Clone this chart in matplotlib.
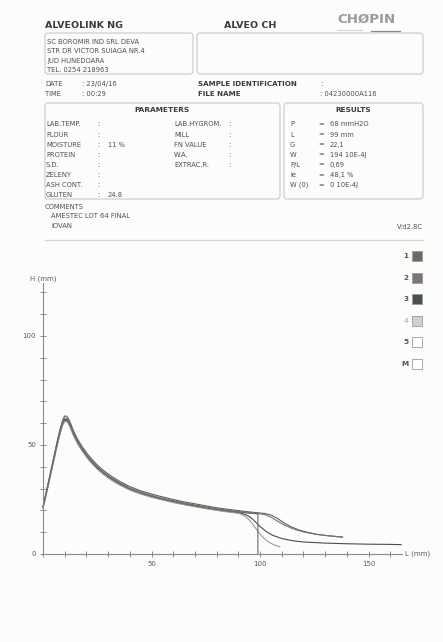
import matplotlib
matplotlib.use("Agg")
import matplotlib.pyplot as plt
from matplotlib.patches import FancyBboxPatch, Rectangle
from matplotlib.ticker import MultipleLocator, FuncFormatter

plt.rcParams['font.family'] = ['DejaVu Sans']

# ---------------- report data ----------------
lab_name = "ALVEOLINK NG"
test_name = "ALVEO CH"
address = ["SC BOROMIR IND SRL DEVA", "STR DR VICTOR SUIAGA NR.4",
           "JUD HUNEDOARA", "TEL. 0254 218963"]
date_str = "23/04/16"
time_str = "00:29"
file_name = "04230000A116"

param_left = ["LAB.TEMP.", "FLOUR", "MOISTURE", "PROTEIN", "S.D.", "ZELENY", "ASH CONT.", "GLUTEN"]
param_left_vals = ["", "", "11 %", "", "", "", "", "24.8"]
param_right = ["LAB.HYGROM.", "MILL", "FN VALUE", "W.A.", "EXTRAC.R."]

result_names = ["P", "L", "G", "W", "P/L", "Ie", "W (0)"]
result_vals = ["68 mmH2O", "99 mm", "22,1", "194 10E-4J", "0,69", "48,1 %", "0 10E-4J"]

comments = ["AMESTEC LOT 64 FINAL", "IOVAN"]
version = "V:d2.8C"

# ---------------- alveogram curves ----------------
# shared abscissa for the inflation part of every bubble (mm)
L_common = [0, 1, 2, 3, 4, 5, 6, 7, 8, 9, 10, 11, 12, 13, 14, 16, 18, 20, 22, 25,
            28, 31, 35, 40, 45, 50, 55, 60, 65, 70, 75, 80, 85, 90]

H1 = [22.0, 26.2, 30.8, 35.4, 40.0, 44.6, 49.2, 53.8, 57.8, 61.3, 63.3, 63.2, 61.6, 59.2,
      56.6, 52.5, 49.3, 46.5, 44.0, 40.8, 38.2, 36.0, 33.5, 30.9, 29.0, 27.5, 26.2, 25.0,
      23.9, 23.0, 22.1, 21.2, 20.5, 19.9]
L1_tail = [94, 98, 102, 105, 108, 111, 114, 118, 122, 127, 132, 138]
H1_tail = [19.4, 19.0, 18.6, 17.9, 16.3, 14.3, 12.6, 11.0, 9.9, 8.9, 8.3, 7.8]

H2 = [21.6, 25.8, 30.3, 34.9, 39.4, 44.0, 48.6, 53.1, 57.0, 60.4, 62.3, 62.2, 60.6, 58.2,
      55.7, 51.6, 48.5, 45.7, 43.2, 40.1, 37.5, 35.3, 32.9, 30.3, 28.4, 26.9, 25.6, 24.5,
      23.4, 22.5, 21.6, 20.8, 20.1, 19.5]
L2_tail = [94, 98, 102, 105, 108, 111, 115, 120, 126, 132, 138]
H2_tail = [19.1, 18.7, 18.1, 16.9, 15.1, 13.4, 11.6, 10.1, 9.0, 8.3, 7.7]

H3 = [21.3, 25.3, 29.8, 34.3, 38.8, 43.3, 47.8, 52.2, 56.0, 59.4, 61.3, 61.2, 59.7, 57.3,
      54.8, 50.8, 47.7, 44.9, 42.4, 39.3, 36.8, 34.6, 32.2, 29.6, 27.8, 26.3, 25.0, 23.9,
      22.8, 21.9, 21.0, 20.2, 19.5, 18.9]
L3_tail = [92, 94, 96, 98, 100, 103, 106, 110, 115, 120, 130, 140, 150, 160, 165]
H3_tail = [18.5, 17.8, 16.5, 14.6, 12.6, 10.2, 8.5, 7.1, 6.1, 5.5, 5.0, 4.7, 4.5, 4.4, 4.3]

H4 = [21.0, 25.0, 29.4, 33.9, 38.4, 42.9, 47.3, 51.7, 55.5, 58.8, 60.8, 60.7, 59.2, 56.9,
      54.4, 50.4, 47.3, 44.5, 42.0, 38.9, 36.4, 34.2, 31.8, 29.3, 27.5, 26.0, 24.8, 23.6,
      22.6, 21.7, 20.8, 20.0, 19.3, 18.7]
L4_tail = [91, 93, 95, 97, 99, 101, 103, 105, 107, 109]
H4_tail = [18.4, 17.4, 15.7, 13.2, 10.4, 8.0, 6.2, 4.9, 4.0, 3.3]

HM = [21.5, 25.6, 30.1, 34.6, 39.1, 43.7, 48.2, 52.7, 56.6, 60.0, 61.8, 61.7, 60.2, 57.8,
      55.3, 51.3, 48.2, 45.4, 42.9, 39.8, 37.2, 35.0, 32.6, 29.9, 28.1, 26.6, 25.3, 24.2,
      23.1, 22.2, 21.3, 20.5, 19.8, 19.2]
LM_tail = [94, 99, 99]
HM_tail = [18.8, 18.4, 0.0]

legend_labels = ["1", "2", "3", "4", "5", "M"]
legend_faces = ["#6a6b66", "#7b7679", "#4b504c", "#d0d0d0", "#ffffff", "#ffffff"]
legend_text_colors = ["#555555", "#555555", "#555555", "#c4c4c4", "#555555", "#555555"]
curve_colors = ["#5e5f5a", "#77727a", "#4a4e4b", "#9a9a9a", "#6a6a6a"]

# ---------------- figure ----------------
W, H = 443, 642
BG = "#fcfcfb"
TXT = "#4f4f4f"
HEAD = "#3a3a3a"
BOX = "#c9c9c9"

fig = plt.figure(figsize=(W / 100, H / 100), dpi=100, facecolor=BG)

# page layer in pixel units (origin top-left)
page = fig.add_axes([0, 0, 1, 1], zorder=0)
page.set_xlim(0, W)
page.set_ylim(H, 0)
page.axis("off")
page.set_facecolor(BG)


def txt(x, y, s, size=4.9, color=TXT, weight="normal", ha="left"):
    page.text(x, y, s, fontsize=size, color=color, fontweight=weight,
              ha=ha, va="center")


def rbox(x0, y0, x1, y1):
    page.add_patch(FancyBboxPatch((x0 + 3, y0 + 3), x1 - x0 - 6, y1 - y0 - 6,
                                  boxstyle="round,pad=3", fc="none", ec=BOX, lw=0.8))


# header
txt(45, 26, lab_name, size=6.8, color=HEAD, weight="bold")
txt(224, 26, test_name, size=6.8, color=HEAD, weight="bold")
txt(337, 19, "CHØPIN", size=9.6, color="#9c9c9c", weight="bold")
page.plot([371, 400], [31, 31], color="#8a8a8a", lw=0.9)
page.plot([337, 362], [30, 30], color="#d6d6d6", lw=0.8)

rbox(45, 33, 193, 74)
rbox(197, 33, 423, 74)
for i, line in enumerate(address):
    txt(47, 42 + i * 9.4, line)

txt(45, 84, "DATE")
txt(82, 84, ": " + date_str)
txt(45, 94, "TIME")
txt(82, 94, ": " + time_str)
txt(198, 84, "SAMPLE IDENTIFICATION", size=5.1, color=HEAD, weight="bold")
txt(198, 94, "FILE NAME", size=5.1, color=HEAD, weight="bold")
txt(320, 84, ":")
txt(320, 94, ": " + file_name)

# parameters and results panels
rbox(45, 103, 280, 199)
rbox(284, 103, 423, 199)
txt(162, 110, "PARAMETERS", size=5.3, color=HEAD, weight="bold", ha="center")
txt(353, 110, "RESULTS", size=5.3, color=HEAD, weight="bold", ha="center")

row_y0, row_dy = 124.5, 10.05
for i, name in enumerate(param_left):
    y = row_y0 + i * row_dy
    txt(46, y, name)
    txt(97, y, ":")
    if param_left_vals[i]:
        txt(108, y, param_left_vals[i])
for i, name in enumerate(param_right):
    y = row_y0 + i * row_dy
    txt(174, y, name)
    txt(228, y, ":")
for i, name in enumerate(result_names):
    y = row_y0 + i * row_dy
    txt(290, y, name)
    txt(318, y, "=")
    txt(330, y, result_vals[i])

txt(45, 207, "COMMENTS")
for i, c in enumerate(comments):
    txt(51, 216.5 + i * 9.6, c)
txt(423, 227, version, ha="right")
page.plot([45, 423], [240, 240], color="#d4d4d4", lw=1.0)

# legend swatches
for i, (lab, fc, tc) in enumerate(zip(legend_labels, legend_faces, legend_text_colors)):
    yc = 256 + i * 21.6
    page.add_patch(Rectangle((412.5, yc - 5), 10, 10, fc=fc, ec="#9a9a9a", lw=0.6))
    txt(408.5, yc, lab, size=5.2, color=tc, weight="bold", ha="right")

# ---------------- alveogram axes ----------------
x0px, x1px = 43, 402
y0px, y1px = 554, 283
ax = fig.add_axes([x0px / W, 1 - y0px / H, (x1px - x0px) / W, (y0px - y1px) / H], zorder=1)
ax.patch.set_alpha(0)
ax.set_xlim(0, 165.4)
ax.set_ylim(0, 124.3)
for side in ("top", "right"):
    ax.spines[side].set_visible(False)
for side in ("left", "bottom"):
    ax.spines[side].set_color("#8c8c8c")
    ax.spines[side].set_linewidth(0.8)

ax.xaxis.set_major_locator(MultipleLocator(10))
ax.yaxis.set_major_locator(MultipleLocator(10))
ax.xaxis.set_major_formatter(FuncFormatter(lambda v, p: f"{v:.0f}" if v % 50 == 0 and v > 0 else ""))
ax.yaxis.set_major_formatter(FuncFormatter(lambda v, p: f"{v:.0f}" if v % 50 == 0 else ""))
ax.tick_params(direction="inout", length=4, width=0.7, color="#8c8c8c",
               labelsize=5, labelcolor="#5a5a5a", pad=3)

curves = [
    (H1, L1_tail, H1_tail),
    (H2, L2_tail, H2_tail),
    (H3, L3_tail, H3_tail),
    (H4, L4_tail, H4_tail),
    (HM, LM_tail, HM_tail),
]
for (h, lt, ht), col in zip(curves, curve_colors):
    ax.plot(L_common + lt, h + ht, color=col, lw=0.8, solid_joinstyle="round",
            clip_on=False)

txt(43, 279, "H (mm)", size=5, color="#5a5a5a", ha="center")
txt(405, 554, "L (mm)", size=5, color="#5a5a5a")

fig.savefig("out.png", dpi=100, facecolor=BG)
